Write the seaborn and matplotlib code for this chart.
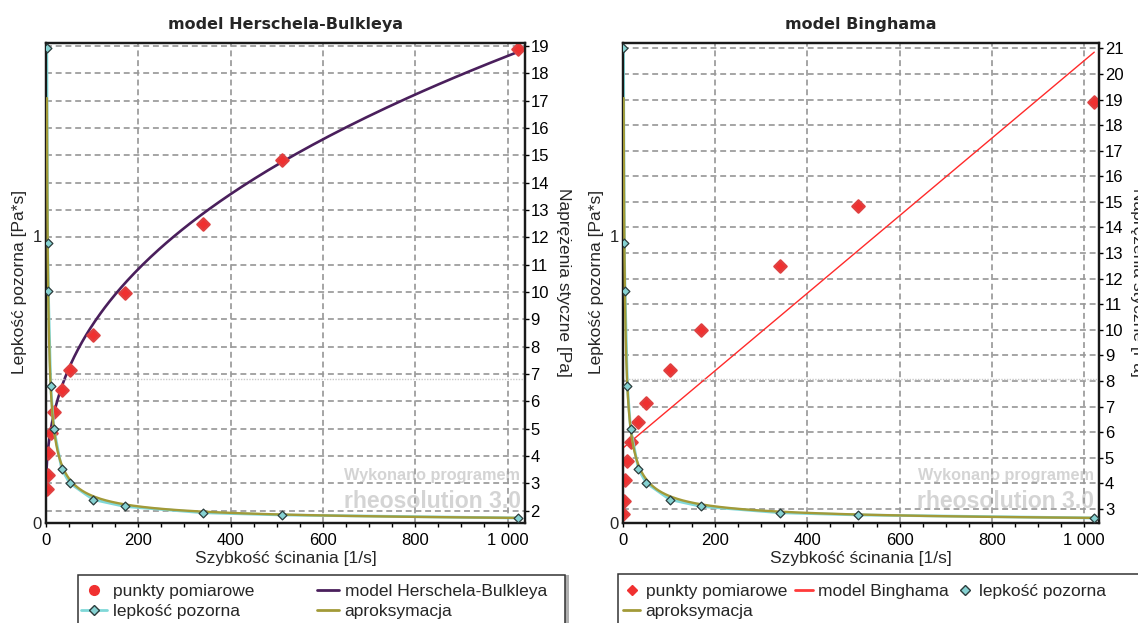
import numpy as np
import seaborn as sns
import matplotlib
matplotlib.use("Agg")
import matplotlib.pyplot as plt
from matplotlib.lines import Line2D
from matplotlib.patches import Rectangle
from matplotlib import font_manager

# ---------------------------------------------------------------- data
shear_rate = [1.703, 3.406, 5.109, 10.22, 17.03, 34.06, 51.09, 102.2, 170.3, 340.6, 510.9, 1021.8]
shear_stress = [2.80, 3.32, 4.12, 4.86, 5.60, 6.40, 7.14, 8.42, 9.98, 12.50, 14.83, 18.90]
apparent_viscosity = [1.65, 0.975, 0.806, 0.476, 0.329, 0.188, 0.140, 0.0824, 0.0586, 0.0367, 0.0290, 0.0185]

# fitted model parameters
hb_tau0, hb_k, hb_n = 2.5, 0.95, 0.41          # Herschel-Bulkley
bingham_tau0, bingham_mu = 5.37, 0.01515        # Bingham
approx_a, approx_b = 2.40, -0.70                # viscosity approximation

x_ticks = [0, 200, 400, 600, 800, 1000]
x_tick_labels = ["0", "200", "400", "600", "800", "1 000"]
visc_ticks = [0, 1]
visc_tick_labels = ["0", "1"]

titles = ["model Herschela-Bulkleya", "model Binghama"]
x_label = "Szybkość ścinania [1/s]"
visc_label = "Lepkość pozorna [Pa*s]"
stress_label = "Naprężenia styczne [Pa]"
watermark = ["Wykonano programem", "rheosolution 3.0"]

# ---------------------------------------------------------------- style
sns.set_style("white")
plt.rcParams["font.family"] = ["Liberation Sans", "DejaVu Sans"]
plt.rcParams["axes.unicode_minus"] = False

RED = "#f03030"
PURPLE = "#4a1f5c"
CYAN = "#86d2d2"
CYAN_LINE = "#80d8d8"
OLIVE = "#a29a38"
GRID = "#9a9a9a"
WM = "#d4d4d4"

W, H = 1138, 623
fig = plt.figure(figsize=(W / 100, H / 100), dpi=100)
fig.patch.set_facecolor("white")

installed = {f.name for f in font_manager.fontManager.ttflist}
if "Liberation Sans Narrow" in installed:
    wm_family, wm_scale = "Liberation Sans Narrow", 1.0
else:
    wm_family, wm_scale = "Liberation Sans", 0.84


def px(x, y):
    return x / W, 1 - y / H


def draw_panel(left_px, right_px, stress_lim, stress_ticks, model, title,
               wm_x):
    top_px, bottom_px = 42.7, 523.3
    x0, y0 = px(left_px, bottom_px)
    ax = fig.add_axes([x0, y0, (right_px - left_px) / W, (bottom_px - top_px) / H])
    axv = ax.twinx()

    xmax = (right_px - left_px) / (92.3 / 200)

    # stress axis (right side) with the grid
    ax.set_xlim(0, xmax)
    ax.set_ylim(*stress_lim)
    ax.yaxis.tick_right()
    ax.set_yticks(stress_ticks)
    ax.set_yticklabels([str(t) for t in stress_ticks])
    ax.set_xticks(x_ticks)
    ax.set_xticklabels(x_tick_labels)
    ax.set_xticks(np.arange(50, xmax, 50), minor=True)
    ax.grid(True, which="major", linestyle=(0, (3.4, 2.2)), color=GRID, lw=1.25)
    ax.set_axisbelow(True)
    ax.tick_params(axis="x", which="both", direction="out", length=3,
                   width=1, colors="black", labelsize=12, pad=4, bottom=True)
    ax.tick_params(axis="y", which="both", direction="out", length=3,
                   width=1, colors="black", labelsize=12, pad=1,
                   right=True, left=False, labelright=True, labelleft=False)

    # viscosity axis (left side)
    axv.yaxis.tick_left()
    axv.set_ylim(0, 1.67)
    axv.set_yticks(visc_ticks)
    axv.set_yticklabels(visc_tick_labels)
    axv.tick_params(axis="y", length=0, labelsize=12, pad=3,
                    left=True, right=False, labelleft=True, labelright=False)
    axv.grid(False)
    axv.axhline(0.5, color="#c8c8c8", lw=1.0, ls=(0, (1, 1)), zorder=0.6)

    for a in (ax, axv):
        for sp in a.spines.values():
            sp.set_color("#1a1a1a")
            sp.set_linewidth(1.6)

    # watermark under the data
    ax.text(wm_x / W, 1 - 475.5 / H, watermark[0], transform=fig.transFigure,
            ha="center", va="center", color=WM, fontsize=13.9 * wm_scale,
            fontweight="bold", family=wm_family, zorder=0.3)
    ax.text(wm_x / W, 1 - 502.0 / H, watermark[1], transform=fig.transFigure,
            ha="center", va="center", color=WM, fontsize=19.7 * wm_scale,
            fontweight="bold", family=wm_family, zorder=0.3)

    # model curve and measured stresses
    mx, my, mcolor, mlw = model
    sns.lineplot(x=mx, y=my, ax=ax, color=mcolor, lw=mlw, estimator=None,
                 sort=False, legend=False, zorder=3)
    sns.scatterplot(x=shear_rate, y=shear_stress, ax=ax, marker="D", s=40,
                    color=RED, edgecolor="#e04040", linewidth=1.6,
                    joinstyle="round", legend=False, zorder=4)

    # apparent viscosity and its approximation
    sns.lineplot(x=shear_rate, y=apparent_viscosity, ax=axv, color=CYAN_LINE,
                 lw=2.0, estimator=None, sort=False, legend=False, zorder=2)
    gx = np.geomspace(2.0, shear_rate[-1], 400)
    sns.lineplot(x=gx, y=approx_a * gx ** approx_b, ax=axv, color=OLIVE,
                 lw=1.7, estimator=None, sort=False, legend=False, zorder=3)
    sns.scatterplot(x=shear_rate, y=apparent_viscosity, ax=axv, marker="D",
                    s=20, color=CYAN, edgecolor="#2c3c3c", linewidth=0.9,
                    legend=False, zorder=4)

    ax.set_xlabel("")
    ax.set_ylabel("")
    axv.set_xlabel("")
    axv.set_ylabel("")

    cx = (left_px + right_px) / 2
    fig.text(cx / W, 1 - 25 / H, title, ha="center", va="center",
             fontsize=11.5, fontweight="bold", family="DejaVu Sans")
    fig.text(cx / W, 1 - 559 / H, x_label, ha="center", va="center", fontsize=12.5)
    fig.text((left_px - 26) / W, 1 - 282 / H, visc_label, ha="center",
             va="center", rotation=90, fontsize=12.5)
    fig.text((right_px + 38) / W, 1 - 282 / H, stress_label, ha="center",
             va="center", rotation=270, fontsize=12.5)
    return ax, axv


# Herschel-Bulkley panel
hb_x = np.geomspace(0.3, shear_rate[-1], 400)
hb_y = hb_tau0 + hb_k * hb_x ** hb_n
draw_panel(46, 525, (1.54, 19.12), list(range(2, 20)),
           (hb_x, hb_y, PURPLE, 1.9), titles[0], 432)

# Bingham panel
bg_x = np.array([0.0, shear_rate[-1]])
bg_y = bingham_tau0 + bingham_mu * bg_x
draw_panel(622.7, 1099.3, (2.44, 21.22), list(range(3, 22)),
           (bg_x, bg_y, "#ff2a2a", 1.0), titles[1], 1006)

# ---------------------------------------------------------------- legends
h_red_dot = Line2D([], [], ls="none", marker="o", markersize=7,
                   color=RED, mec=RED)
h_red_dia = Line2D([], [], ls="none", marker="D", markersize=5,
                   color=RED, mec=RED)
h_purple = Line2D([], [], color=PURPLE, lw=2)
h_red_line = Line2D([], [], color="#ff3a3a", lw=2)
h_visc_line = Line2D([], [], color=CYAN_LINE, lw=2, marker="D", markersize=5,
                     mfc=CYAN, mec="#2c3c3c")
h_visc_dot = Line2D([], [], ls="none", marker="D", markersize=5,
                    mfc=CYAN, mec="#2c3c3c")
h_olive = Line2D([], [], color=OLIVE, lw=2)

# frames
fig.add_artist(Rectangle(px(82.4, 640), (564.6 - 78.4) / W, 65 / H,
                         transform=fig.transFigure, facecolor="#b0b0b0",
                         edgecolor="none", zorder=5))
fig.add_artist(Rectangle(px(78.4, 640), (564.6 - 78.4) / W, 65 / H,
                         transform=fig.transFigure, facecolor="white",
                         edgecolor="#333333", lw=1.1, zorder=6))
fig.add_artist(Rectangle(px(618, 640), 560 / W, 66 / H,
                         transform=fig.transFigure, facecolor="white",
                         edgecolor="#333333", lw=1.1, zorder=6))


def column(handles, labels, x, hl, pad):
    leg = fig.legend(handles, labels, loc="upper left",
                     bbox_to_anchor=px(x, 583.5), frameon=False, borderpad=0,
                     borderaxespad=0, handlelength=hl, handletextpad=pad,
                     labelspacing=0.28, fontsize=12.5)
    leg.set_zorder(7)
    return leg


column([h_red_dot, h_visc_line], ["punkty pomiarowe", "lepkość pozorna"], 81, 1.5, 0.32)
column([h_purple, h_olive], ["model Herschela-Bulkleya", "aproksymacja"], 317, 1.27, 0.32)
column([h_red_dia, h_olive], ["punkty pomiarowe", "aproksymacja"], 623, 1.0, 0.3)
column([h_red_line], ["model Binghama"], 795, 1.05, 0.3)
column([h_visc_dot], ["lepkość pozorna"], 957, 0.95, 0.3)

fig.savefig("out.png", dpi=100, facecolor="white")
